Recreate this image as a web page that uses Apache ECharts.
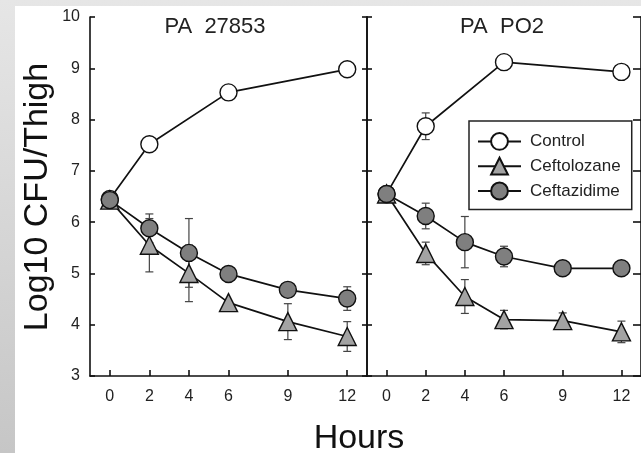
<!DOCTYPE html>
<html>
<head>
<meta charset="utf-8">
<script src="https://cdn.jsdelivr.net/npm/echarts@6/dist/echarts.min.js"></script>
<style>
html,body{margin:0;padding:0;width:641px;height:453px;overflow:hidden;}
body{background:linear-gradient(to bottom,#e6e6e6,#c6c6c6);}
#paper{position:absolute;left:15px;top:6px;width:626px;height:447px;background:#fff;}
#chart{position:absolute;left:0;top:0;width:641px;height:453px;}
</style>
</head>
<body>
<div id="paper"></div>
<div id="chart"></div>
<script>
// ---- data ----
const hours = [0, 2, 4, 6, 9, 12];
const tickHours = [0, 2, 4, 6, 9, 12];
const yTicks = [3, 4, 5, 6, 7, 8, 9, 10];
const seriesNames = ['Control', 'Ceftolozane', 'Ceftazidime'];
const panelTitles = ['PA  27853', 'PA  PO2'];

// Panel A: PA 27853
const controlA = [6.45, 7.52, null, 8.53, null, 8.98];
const controlAErr = [0, 0, 0, 0, 0, 0];
const ceftolozaneA = [6.43, 5.55, 5.0, 4.43, 4.06, 3.77];
const ceftolozaneAErr = [0, 0.52, 0.55, 0, 0.35, 0.29];
const ceftazidimeA = [6.43, 5.88, 5.40, 4.99, 4.68, 4.51];
const ceftazidimeAErr = [0, 0.28, 0.67, 0, 0, 0.23];

// Panel B: PA PO2
const controlB = [6.55, 7.87, null, 9.12, null, 8.93];
const controlBErr = [0, 0.26, 0, 0, 0, 0];
const ceftolozaneB = [6.55, 5.39, 4.55, 4.10, 4.08, 3.86];
const ceftolozaneBErr = [0, 0.22, 0.33, 0.18, 0.15, 0.21];
const ceftazidimeB = [6.55, 6.12, 5.61, 5.33, 5.10, 5.10];
const ceftazidimeBErr = [0, 0.25, 0.50, 0.20, 0, 0];

// ---- helpers ----
const FONT = '"Liberation Sans", Arial, Helvetica, sans-serif';
function pairs(vals) {
  const out = [];
  hours.forEach((h, i) => { if (vals[i] != null) out.push([h, vals[i]]); });
  return out;
}
function errs(vals, e) {
  const out = [];
  hours.forEach((h, i) => { if (vals[i] != null && e[i] > 0) out.push([h, vals[i] - e[i], vals[i] + e[i]]); });
  return out;
}
const styles = {
  Control: { symbol: 'circle', symbolSize: 17, color: '#ffffff' },
  Ceftolozane: { symbol: 'triangle', symbolSize: 18, color: '#a3a3a3' },
  Ceftazidime: { symbol: 'circle', symbolSize: 17, color: '#7f7f7f' }
};
function lineSeries(name, vals, idx) {
  const s = styles[name];
  return {
    type: 'line', name: name, xAxisIndex: idx, yAxisIndex: idx * 2,
    data: pairs(vals), symbol: s.symbol, symbolSize: s.symbolSize,
    showAllSymbol: true, z: 3,
    lineStyle: { color: '#111', width: 1.7 },
    itemStyle: { color: s.color, borderColor: '#111', borderWidth: 1.4, opacity: 1 },
    emphasis: { disabled: true }, animation: false
  };
}
function errSeries(data, idx) {
  return {
    type: 'custom', xAxisIndex: idx, yAxisIndex: idx * 2, data: data, z: 2,
    silent: true, animation: false,
    renderItem: function (params, api) {
      const x = api.value(0);
      const lo = api.coord([x, api.value(1)]);
      const hi = api.coord([x, api.value(2)]);
      const cw = 4;
      const st = { stroke: '#444', lineWidth: 1.2 };
      return {
        type: 'group', children: [
          { type: 'line', shape: { x1: lo[0], y1: lo[1], x2: hi[0], y2: hi[1] }, style: st },
          { type: 'line', shape: { x1: lo[0] - cw, y1: lo[1], x2: lo[0] + cw, y2: lo[1] }, style: st },
          { type: 'line', shape: { x1: hi[0] - cw, y1: hi[1], x2: hi[0] + cw, y2: hi[1] }, style: st }
        ]
      };
    }
  };
}
const axisLineStyle = { color: '#111', width: 1.6 };
function xAxis(idx) {
  return {
    type: 'value', gridIndex: idx, min: -1, max: 13,
    axisLine: { show: true, onZero: false, lineStyle: axisLineStyle },
    axisTick: { show: true, inside: true, length: 6, lineStyle: axisLineStyle, customValues: tickHours },
    axisLabel: { show: true, margin: 13, fontSize: 16, color: '#222', fontFamily: FONT, customValues: tickHours },
    splitLine: { show: false }
  };
}
function yAxis(idx, pos, labels, tickLen) {
  return {
    type: 'value', gridIndex: idx, position: pos, min: yTicks[0], max: yTicks[yTicks.length - 1], interval: 1,
    axisLine: { show: true, onZero: false, lineStyle: axisLineStyle },
    axisTick: { show: true, inside: true, length: tickLen, lineStyle: axisLineStyle },
    axisLabel: { show: labels, margin: 10, fontSize: 16, color: '#222', fontFamily: FONT },
    splitLine: { show: false }
  };
}

const option = {
  backgroundColor: 'transparent',
  animation: false,
  grid: [
    { left: 90, top: 17, width: 277, height: 359 },
    { left: 367, top: 17, width: 280, height: 359 }
  ],
  xAxis: [xAxis(0), xAxis(1)],
  yAxis: [yAxis(0, 'left', true, 5), yAxis(0, 'right', false, 5), yAxis(1, 'left', false, 5), yAxis(1, 'right', false, 8)],
  legend: {
    data: seriesNames, orient: 'vertical', left: 469, top: 121,
    itemWidth: 43, itemHeight: 21, itemGap: 6,
    padding: [11, 11, 9, 8],
    borderColor: '#222', borderWidth: 1.5, backgroundColor: '#fff',
    textStyle: { fontSize: 17, color: '#222', fontFamily: FONT, padding: [0, 0, 0, 4] },
    selectedMode: false
  },
  graphic: [
    { type: 'text', x: 215, y: 27, style: { text: panelTitles[0], font: '22px ' + FONT, fill: '#222', textAlign: 'center', textVerticalAlign: 'middle' } },
    { type: 'text', x: 502, y: 27, style: { text: panelTitles[1], font: '22px ' + FONT, fill: '#222', textAlign: 'center', textVerticalAlign: 'middle' } },
    { type: 'text', x: 359, y: 439, style: { text: 'Hours', font: '34px ' + FONT, fill: '#111', textAlign: 'center', textVerticalAlign: 'middle' } },
    { type: 'text', x: 38, y: 197, rotation: Math.PI / 2, style: { text: 'Log10 CFU/Thigh', font: '34px ' + FONT, fill: '#111', textAlign: 'center', textVerticalAlign: 'middle' } }
  ],
  series: [
    errSeries(errs(controlA, controlAErr), 0),
    errSeries(errs(ceftolozaneA, ceftolozaneAErr), 0),
    errSeries(errs(ceftazidimeA, ceftazidimeAErr), 0),
    errSeries(errs(controlB, controlBErr), 1),
    errSeries(errs(ceftolozaneB, ceftolozaneBErr), 1),
    errSeries(errs(ceftazidimeB, ceftazidimeBErr), 1),
    lineSeries('Control', controlA, 0),
    lineSeries('Ceftolozane', ceftolozaneA, 0),
    lineSeries('Ceftazidime', ceftazidimeA, 0),
    lineSeries('Control', controlB, 1),
    lineSeries('Ceftolozane', ceftolozaneB, 1),
    lineSeries('Ceftazidime', ceftazidimeB, 1)
  ]
};
const chart = echarts.init(document.getElementById('chart'), null, { renderer: 'canvas' });
chart.setOption(option);
</script>
</body>
</html>
